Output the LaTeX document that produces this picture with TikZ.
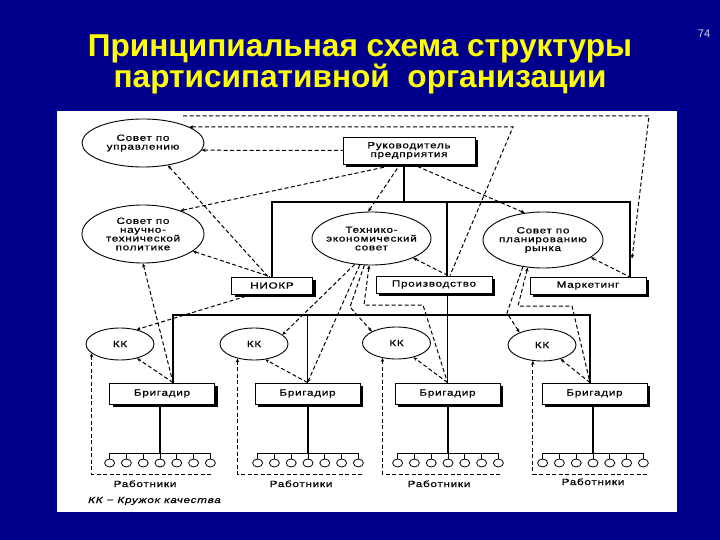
\documentclass[tikz,border=0pt]{standalone}
\usepackage{fontspec}
\setmainfont{Liberation Sans}
\newfontfamily\ttlfont{Liberation Sans}
\newfontfamily\dgfont[FakeStretch=1.3,LetterSpace=8,FakeBold=0.6]{Liberation Sans}
\usetikzlibrary{shapes.geometric,arrows.meta,shadows}
\definecolor{slideblue}{RGB}{0,0,140}
\definecolor{ttlyellow}{RGB}{255,255,0}
\begin{document}
\begin{tikzpicture}[x=1pt,y=-1pt,
  every node/.style={font=\dgfont\fontsize{9}{8.8}\selectfont, inner sep=0pt, align=center},
  ell/.style={draw, ellipse, line width=0.9pt, fill=white, inner xsep=-6pt, inner ysep=-2pt},
  sbox/.style={draw, rectangle, line width=0.9pt, fill=white,
     drop shadow={shadow xshift=3pt,shadow yshift=-3pt,fill=black,opacity=1}},
  dl/.style={dash pattern=on 4pt off 2.5pt, line width=1pt},
  sl/.style={line width=1.2pt},
  ar/.style={-{Stealth[length=4pt,width=3.5pt]}},
  ra/.style={{Stealth[length=4pt,width=3.5pt]}-},
  worker/.style={draw, ellipse, minimum width=10pt, minimum height=8pt, line width=0.8pt, fill=white},
  ttl/.style={font=\ttlfont\bfseries\fontsize{31.6}{31.6}\selectfont, text=ttlyellow, anchor=base},
  lbl/.style={anchor=base}
]
\fill[slideblue] (0,0) rectangle (720,540);
\useasboundingbox (0,0) rectangle (720,540);
\fill[white] (57,111) rectangle (677,512);

% title
\node[ttl] (t1) at (360,57) {Принципиальная схема структуры};
\node[ttl] (t2) at (360,88) {партисипативной\ \ организации};
\node[font=\ttlfont\fontsize{11}{11}\selectfont, text=white!85!slideblue, anchor=base] (pg) at (704,38) {74};

% nodes
\node[ell, minimum width=122pt, minimum height=48pt] (upr) at (143,143) {Совет по\\управлению};
\node[sbox, minimum width=132pt, minimum height=27pt] (ruk) at (409,150.5) {Руководитель\\предприятия};
\node[ell, minimum width=122pt, minimum height=58pt] (ntp) at (143,234) {Совет по\\научно-\\технической\\политике};
\node[ell, minimum width=119pt, minimum height=53pt] (tes) at (371.5,238.5) {Технико-\\экономический\\совет};
\node[ell, minimum width=120pt, minimum height=56pt] (pr) at (543,240) {Совет по\\планированию\\рынка};
\node[sbox, minimum width=81pt, minimum height=17pt] (niokr) at (272,285.5) {НИОКР};
\node[sbox, minimum width=116pt, minimum height=17pt] (proizv) at (434,284.5) {Производство};
\node[sbox, minimum width=116pt, minimum height=17pt] (mark) at (588,285.5) {Маркетинг};
\node[ell, minimum width=68pt, minimum height=32pt] (kk1) at (120,344) {КК};
\node[ell, minimum width=68pt, minimum height=32pt] (kk2) at (254,344) {КК};
\node[ell, minimum width=68pt, minimum height=32pt] (kk3) at (396.5,343) {КК};
\node[ell, minimum width=68pt, minimum height=32pt] (kk4) at (542,345) {КК};
\node[sbox, minimum width=105pt, minimum height=21pt] (b1) at (162,393.5) {Бригадир};
\node[sbox, minimum width=105pt, minimum height=21pt] (b2) at (307.5,393.5) {Бригадир};
\node[sbox, minimum width=105pt, minimum height=21pt] (b3) at (447.5,393.5) {Бригадир};
\node[sbox, minimum width=105pt, minimum height=21pt] (b4) at (594.5,393.5) {Бригадир};

% solid tree
\coordinate (h1) at (404,202);
\coordinate (h2) at (308,315);
\draw[sl] ([xshift=-5pt]ruk.south) -- (h1);
\draw[sl] (niokr.north) |- (h1) -| ([xshift=42pt]mark.north);
\draw[sl] ([xshift=13pt]proizv.north) -- ([xshift=13pt]proizv.north |- h1);
\draw[sl] (proizv.south -| b3.north) -- (b3.north);
\draw[sl] ([xshift=11pt]b1.north) |- (h2) -| ([xshift=-4.5pt]b4.north);
\draw[sl] (b2.north) -- (b2.north |- h2);

% workers
\foreach \g/\cx in {1/160,2/308,3/448,4/593} {
  \coordinate (gc\g) at (\cx,453);
  \draw[sl] (b\g.south -| gc\g) -- (gc\g);
  \draw[line width=0.9pt] (\cx-50.4,453) -- (\cx+50.4,453);
  \foreach \i in {0,...,6} {
    \node[worker] (w\g\i) at (\cx+16.8*\i-50.4,463) {};
    \draw[line width=0.9pt] (\cx+16.8*\i-50.4,453) -- (w\g\i.north);
  }
}

% worker enclosures
\coordinate (e1) at (213,474);
\coordinate (e2) at (363,474);
\coordinate (e3) at (500,474);
\coordinate (e4) at (647,474);
\draw[dl,ra] (kk1.198) |- (e1);
\draw[dl,ra] (kk2.221) |- (e2);
\draw[dl,ra] (kk3.227) |- (e3);
\draw[dl,ra] (kk4.240) |- (e4);

% dashed links
\coordinate (tl) at (183,116);
\coordinate (tr) at (649,116);
\coordinate (pk) at (513,127);
\draw[dl,ar] (tl) -- (tr) -- ([xshift=44pt,yshift=18pt]mark.north);
\draw[dl,ra] (upr.19) -- (pk) -- ([xshift=16pt]proizv.north);
\draw[dl,ra] (upr.-7) -- (ruk.west);
\draw[dl,ra] (upr.-42) -- ([xshift=-4pt]niokr.north);
\draw[dl,ra] (ntp.32) -- ([xshift=-12pt]ruk.south);
\draw[dl,ra] (ntp.-19) -- ([xshift=-2pt]niokr.north);
\draw[dl,ra] (ntp.south) -- ([xshift=11pt]b1.north);
\draw[dl,ra] (tes.97) -- ([xshift=-9pt]ruk.south);
\draw[dl,ra] (pr.124) -- ([xshift=4pt]ruk.south);
\draw[dl,ra] (tes.-25) -- ([xshift=14pt]proizv.north);
\draw[dl,ra] (pr.-20) -- ([xshift=41pt]mark.north);
\draw[dl,ar] ([xshift=-20pt]niokr.south) -- (kk1.41);
\draw[dl,ar] ([xshift=11pt]b1.north) -- (kk1.-40);
\draw[dl,ar] (b2.north) -- (kk2.-54);
\draw[dl,ar] (b3.north) -- (kk3.-40);
\draw[dl,ar] ([xshift=-4.5pt]b4.north) -- (kk4.-37);

% fan from technical-economic council
\coordinate (c1) at (350,307);
\coordinate (d1) at (364,305);
\coordinate (d2) at (423,305);
\draw[dl,ar] (tes.237) -- (kk2.18);
\draw[dl,ar] (tes.246) -- (b2.north);
\draw[dl,ar] (tes.255) -- (c1) -- (kk3.155);
\draw[dl,ra] (tes.265) -- (d1) -- (d2) -- (b3.north);

% fan from market planning council
\coordinate (f0) at (507,313);
\coordinate (f1) at (518,306);
\coordinate (f2) at (572,306);
\draw[dl,ar] (pr.233) -- (f0) -- (kk4.151);
\draw[dl,ra] (pr.241) -- (f1) -- (f2) -- ([xshift=-4.5pt]b4.north);

% labels
\node[lbl] (lab1) at (145,487) {Работники};
\node[lbl] (lab2) at (301,487) {Работники};
\node[lbl] (lab3) at (439,487) {Работники};
\node[lbl] (lab4) at (593,485) {Работники};
\node[anchor=base west] (leg) at (88,503) {\itshape КК − Кружок качества};
\end{tikzpicture}
\end{document}
